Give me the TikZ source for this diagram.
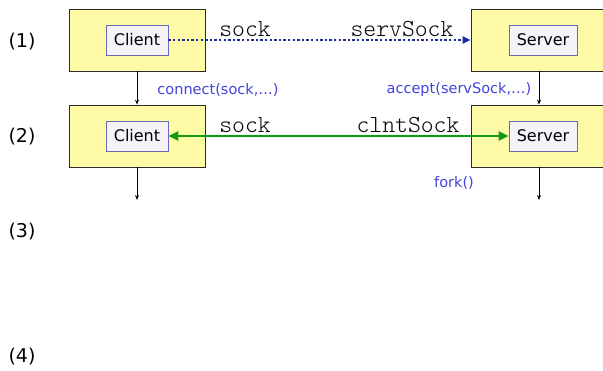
\documentclass[tikz,border=0pt]{standalone}
\usepackage{fontspec}
\setmainfont{DejaVu Sans}
\newfontfamily\codefont{Latin Modern Mono Light}
\usepackage{xcolor}
\definecolor{pad}{HTML}{FFFAA6}
\definecolor{padline}{HTML}{2A2A2A}
\definecolor{tag}{HTML}{F4F4F8}
\definecolor{tagline}{HTML}{6A6AB0}
\definecolor{call}{HTML}{4242DC}
\definecolor{wait}{HTML}{1C2C9C}
\definecolor{link}{HTML}{139A13}
\usetikzlibrary{positioning,calc,arrows.meta}

\tikzset{
  proc/.style={draw=padline,fill=pad,line width=0.8pt,minimum width=136pt,minimum height=62pt,inner sep=0pt},
  role/.style={draw=tagline,fill=tag,line width=0.8pt,minimum width=62pt,minimum height=30pt,inner sep=0pt,font=\fontsize{16}{18}\selectfont},
  sysc/.style={text=call,inner sep=1pt,font=\fontsize{14.5}{16}\selectfont},
  var/.style={inner sep=1pt,font=\codefont\fontsize{24.5}{26}\selectfont},
  flow/.style={-{Stealth[length=5pt,width=4pt]},line width=0.8pt}
}

\begin{document}
\begin{tikzpicture}[x=1pt,y=-1pt]
  \useasboundingbox (0,0) rectangle (603,371);
  \clip (0,0) rectangle (603,371);
  % step numbers
  \foreach \y/\n in {42/1,137/2,232/3,357/4}
    \node[font=\fontsize{19}{21}\selectfont,inner sep=0pt] (num\n) at (22,\y) {(\n)};
  % client and server, before and after
  \node[proc] (c1) at (137,40) {};
  \node[proc] (c2) at (137,136) {};
  \node[proc] (s1) at (539,40) {};
  \node[proc] (s2) at (539,136) {};
  \node[role] (cl1) at (137,40) {Client};
  \node[role] (cl2) at (137,136) {Client};
  \node[role,minimum width=68pt] (sv1) at (543,40) {Server};
  \node[role,minimum width=68pt] (sv2) at (543,136) {Server};
  \coordinate (cend) at (c2.south |- 0,200);
  \coordinate (send) at (s2.south |- 0,200);
  \draw[flow] (c1.south) -- (c2.north);
  \draw[flow] (s1.south) -- (s2.north);
  \draw[flow] (c2.south) -- (cend);
  \draw[flow] (s2.south) -- (send);
  % sockets
  \draw[wait,line width=2.4pt,dash pattern=on 2.4pt off 2.2pt,-{Triangle[length=8pt,width=7pt]}] (cl1.east) -- (s1.west);
  \draw[link,line width=2.4pt,{Triangle[length=10pt,width=9pt]}-{Triangle[length=10pt,width=9pt]}] (cl2.east) -- (sv2.west);
  \node[var] (sk1) at (245,29) {sock};
  \node[var] (ssk) at (402,29) {servSock};
  \node[var] (sk2) at (245,125) {sock};
  \node[var] (csk) at (408,125) {clntSock};
  % calls
  \node[sysc] (conn) at (218,90) {connect(sock,\dots)};
  \node[sysc] (acc) at (459,90) {accept(servSock,\dots)};
  \node[sysc] (frk) at (454,183) {fork()};
\end{tikzpicture}
\end{document}
